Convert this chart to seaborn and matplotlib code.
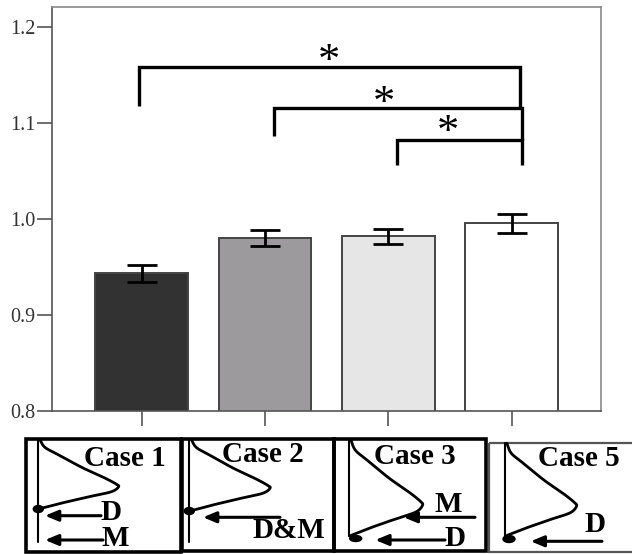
import numpy as np
import matplotlib
matplotlib.use("Agg")
import matplotlib.pyplot as plt
from matplotlib.patches import Ellipse, Rectangle
import seaborn as sns

# ---- data -------------------------------------------------------------
cases = ["Case 1", "Case 2", "Case 3", "Case 5"]
means = [0.9435, 0.9805, 0.982, 0.9955]
errors = [0.0085, 0.008, 0.008, 0.010]
bar_colors = ["#323232", "#9e999e", "#e6e6e6", "#ffffff"]
y_ticks = [0.8, 0.9, 1.0, 1.1, 1.2]
y_tick_labels = ["0.8", "0.9", "1.0", "1.1", "1.2"]
comparisons = [(0, 3), (1, 3), (2, 3)]
sig_marks = ["*", "*", "*"]
arrow_labels = [["D", "M"], ["D&M"], ["M", "D"], ["D"]]

# ---- style ------------------------------------------------------------
sns.set_style("white")
plt.rcParams["font.family"] = ["Liberation Serif", "DejaVu Serif"]
SPINE = "#555555"

W, H = 632, 554
fig = plt.figure(figsize=(W / 100, H / 100), dpi=100)
ax = fig.add_axes([52.3 / W, (H - 411) / H, (600.7 - 52.3) / W, (411 - 7.3) / H])

df = {"case": cases, "value": means}
sns.barplot(x=df["case"], y=df["value"], hue=df["case"], palette=bar_colors,
            width=0.75, errorbar=None, legend=False, edgecolor="#444444",
            linewidth=1.4, ax=ax)
xpos = np.arange(len(cases))
ax.errorbar(xpos, means, yerr=errors, fmt="none", ecolor="black",
            elinewidth=2.0, capsize=11, capthick=2.0, zorder=5)

ax.set_xlim(-0.725, 3.722)
ax.set_ylim(0.8, 1.2 + 20 / 959)
ax.set_yticks(y_ticks)
ax.set_yticklabels(y_tick_labels)
ax.set_xlabel("")
ax.set_ylabel("")
ax.tick_params(axis="y", direction="out", length=10.8, width=1.2,
               color=SPINE, labelsize=14.5, labelcolor="#333333", pad=1.5, left=True)
ax.tick_params(axis="x", direction="out", length=10.8, width=1.2,
               color=SPINE, labelbottom=False, bottom=True)
for side, sp in ax.spines.items():
    sp.set_visible(True)
    sp.set_color(SPINE if side in ("left", "bottom") else "#8a8a8a")
    sp.set_linewidth(1.2)

# significance brackets: (left x offset, right x, top, left leg end, right leg end)
bracket_geom = [
    (-0.02, 3.07, 1.159, 1.1175, 1.1156),
    (0.07, 3.08, 1.1156, 1.0862, 1.0826),
    (0.07, 3.08, 1.0826, 1.0567, 1.0567),
]
star_pos = [(1.519, 1.1733), (1.965, 1.1295), (2.48, 1.100)]
STAR_SIZE = 32
star_drop = 0.46 * STAR_SIZE * 100 / 72 / 959   # glyph centre above the baseline
for (i, j), (dl, xr, top, lb, rb), mark, (sx, sy) in zip(comparisons, bracket_geom,
                                                        sig_marks, star_pos):
    xl = i + dl
    ax.plot([xl, xl, xr, xr], [lb, top, top, rb], color="black", lw=2.4,
            solid_joinstyle="miter", solid_capstyle="butt", zorder=6)
    ax.text(sx, sy - star_drop, mark, ha="center", va="baseline",
            fontsize=STAR_SIZE, color="black")

# ---- schematic panels below the bars (pixel coordinates) -------------
dax = fig.add_axes([0, 0, 1, 1])
dax.set_xlim(0, W)
dax.set_ylim(H, 0)
dax.axis("off")
dax.patch.set_alpha(0)

# outline of a sideways, skewed distribution (normalised: u across, v down)
shape_u = [0.02, 0.08, 0.23, 0.54, 0.81, 0.97, 1.0, 0.91, 0.66, 0.34, 0.12, 0.0]
shape_v = [0.0, 0.106, 0.203, 0.396, 0.54, 0.638, 0.68, 0.75, 0.815, 0.9, 0.965, 1.0]


def catmull_rom(px, py, n=20):
    px = np.r_[px[0], px, px[-1]]
    py = np.r_[py[0], py, py[-1]]
    xs, ys = [], []
    t = np.linspace(0, 1, n, endpoint=False)
    for k in range(1, len(px) - 2):
        for arr, out in ((px, xs), (py, ys)):
            p0, p1, p2, p3 = arr[k - 1], arr[k], arr[k + 1], arr[k + 2]
            out.extend(0.5 * ((2 * p1) + (-p0 + p2) * t
                              + (2 * p0 - 5 * p1 + 4 * p2 - p3) * t ** 2
                              + (-p0 + 3 * p1 - 3 * p2 + p3) * t ** 3))
    xs.append(px[-2])
    ys.append(py[-2])
    return np.array(xs), np.array(ys)


cu, cv = catmull_rom(np.array(shape_u), np.array(shape_v))

panels = [
    dict(box=(26, 181, 439, 552), blw=2.6, bcol="black", axis_x=37.7, axis_y=(439, 542),
         base=38.5, top=440, bottom=509, width=80, dot=(38.3, 509, 10, 7),
         title=(125, 458),
         arrows=[(101, 45, 515.7, 111, 512), (103, 45, 540, 115.5, 539)]),
    dict(box=(182, 334, 439, 551), blw=2.6, bcol="black", axis_x=189.3, axis_y=(439, 542),
         base=190, top=440, bottom=511, width=80, dot=(189.3, 511, 10, 7),
         title=(262.5, 455),
         arrows=[(280, 203, 517.3, 289, 530)]),
    dict(box=(334, 486, 439, 551), blw=2.6, bcol="black", axis_x=348.7, axis_y=(439, 536),
         base=349.5, top=440, bottom=536, width=73, dot=(355.7, 538.5, 12, 6),
         title=(414.5, 456.5),
         arrows=[(475, 403.7, 517.3, 448.7, 505), (445, 375.3, 540, 455, 539)]),
    dict(box=(488.5, 640, 442.5, 552), blw=1.6, bcol="#555555", axis_x=504.7,
         axis_y=(442.5, 537), base=505.5, top=443.3, bottom=536, width=71,
         dot=(509, 539, 12, 7), title=(579, 458),
         arrows=[(602, 530.7, 541.3, 594.5, 524)]),
]

for name, labels, p in zip(cases, arrow_labels, panels):
    x0, x1, y0, y1 = p["box"]
    dax.add_patch(Rectangle((x0, y0), x1 - x0, y1 - y0, fill=False,
                            lw=p["blw"], edgecolor=p["bcol"], clip_on=False))
    dax.plot([p["axis_x"]] * 2, p["axis_y"], color="black", lw=1.5)
    dax.plot(p["base"] + cu * p["width"], p["top"] + cv * (p["bottom"] - p["top"]),
             color="black", lw=2.0)
    dx, dy, dw, dh = p["dot"]
    dax.add_patch(Ellipse((dx, dy), dw, dh, color="black"))
    dax.text(*p["title"], name, ha="center", va="center", fontsize=21,
             fontweight="bold", color="black")
    for lab, (xt, xh, ya, lx, ly) in zip(labels, p["arrows"]):
        dax.annotate("", xy=(xh, ya), xytext=(xt, ya),
                     arrowprops=dict(arrowstyle="-|>,head_length=0.6,head_width=0.25",
                                     lw=2.2, color="black", mutation_scale=13,
                                     shrinkA=0, shrinkB=0))
        dax.text(lx, ly, lab, ha="center", va="center", fontsize=21,
                 fontweight="bold", color="black")

fig.savefig("out.png", dpi=100)
